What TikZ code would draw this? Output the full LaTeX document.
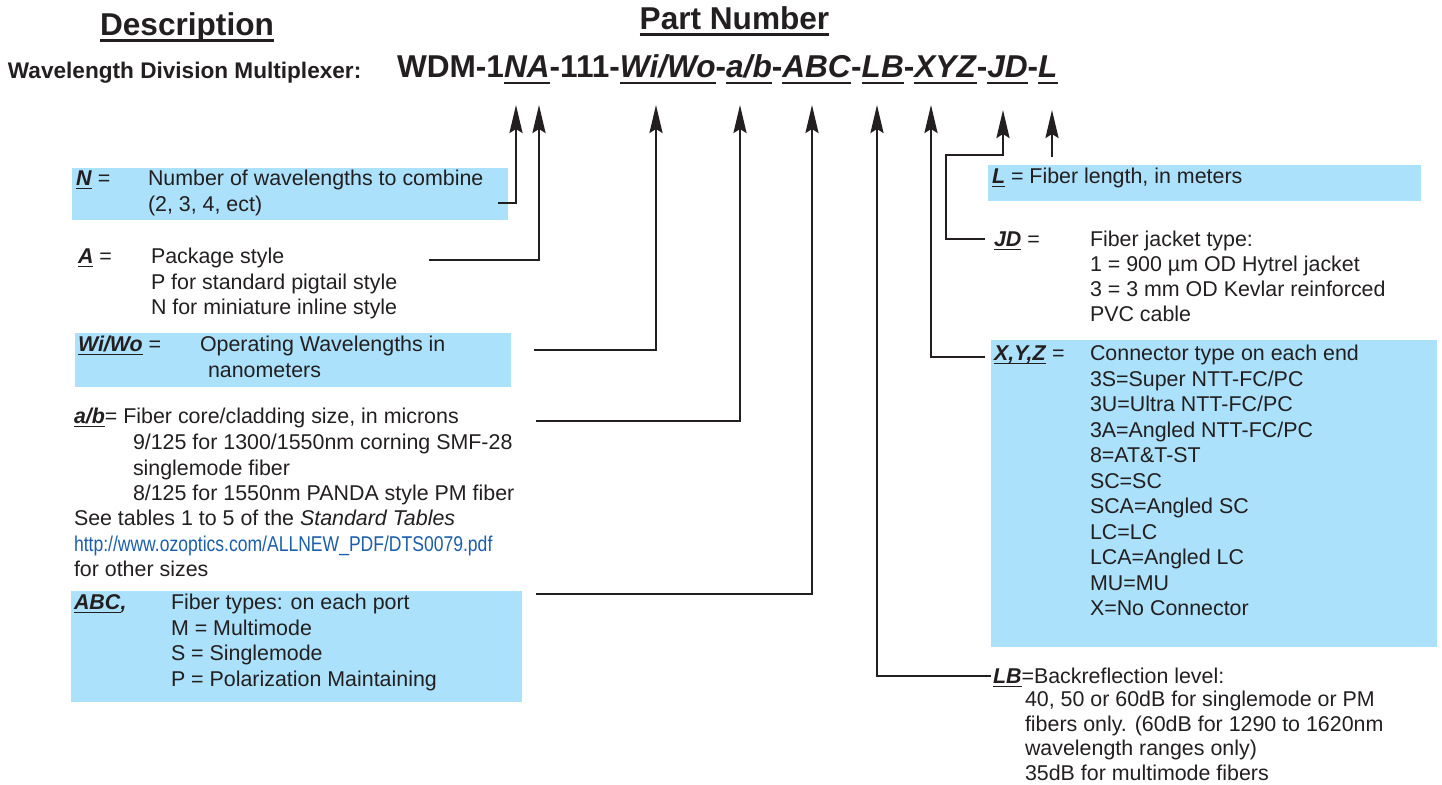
\documentclass[tikz,border=0pt]{standalone}
\usepackage{fontspec}
\setmainfont{Liberation Sans}
\newfontfamily\narrowsans[FakeStretch=0.82]{Liberation Sans}
\usetikzlibrary{arrows.meta}
\definecolor{tc}{HTML}{231F20}
\definecolor{boxc}{HTML}{ABE1FA}
\definecolor{urlc}{HTML}{1B5EAB}
\newcommand\body{\fontsize{10.7}{12.75}\selectfont}
\newcommand\ulx[3]{\setbox0\hbox{#3}\rlap{\rule[-#1]{\wd0}{#2}}\box0\relax}
\newcommand\lab[1]{\ulx{1.7pt}{0.9pt}{\textbf{\textit{#1}}}}
\newcommand\pu[1]{\ulx{3pt}{1.1pt}{\textit{#1}}}
\newcommand\lines[1]{\begin{tabular}[t]{@{}l@{}}#1\end{tabular}}
\begin{document}
\begin{tikzpicture}[x=0.5pt,y=-0.5pt,
  every node/.style={inner sep=0pt, outer sep=0pt, text=tc},
  txt/.style={anchor=base west, font=\body},
  arr/.style={draw=tc, line width=1.3pt, -{Stealth[length=14pt,width=6.5pt,inset=2pt]}}]
\useasboundingbox (0,0) rectangle (1442,785);
% shaded boxes
\fill[boxc] (72,168) rectangle (508,220);
\fill[boxc] (75,333) rectangle (511,387);
\fill[boxc] (71,591) rectangle (522,702);
\fill[boxc] (988,165) rectangle (1421,201);
\fill[boxc] (991,340) rectangle (1437,647);
% headings
\node[anchor=base, font=\fontsize{15.8}{18}\selectfont\bfseries] (desc) at (187,36) {\ulx{2.9pt}{1.2pt}{Description}};
\node[anchor=base, font=\fontsize{15.8}{18}\selectfont\bfseries] (pnt) at (734.5,30) {\ulx{2.9pt}{1.2pt}{Part Number}};
\node[anchor=base west, font=\fontsize{11.3}{13}\selectfont\bfseries] (wdm) at (8,79) {Wavelength Division Multiplexer:};
\node[anchor=base west, font=\fontsize{15.8}{18}\selectfont\bfseries] (pn) at (397,78)
  {WDM-1\pu{NA}-111-\pu{Wi/Wo}-\pu{a/b}-\pu{ABC}-\pu{LB}-\pu{XYZ}-\pu{JD}-\pu{L}};
% left blocks
\node[txt] (Nl) at (76,186) {\lab{N} =};
\node[txt] (Nt) at (148,186) {\lines{Number of wavelengths to combine\\(2, 3, 4, ect)}};
\node[txt] (Al) at (78,264) {\lab{A} =};
\node[txt] (At) at (151,264) {\lines{Package style\\P for standard pigtail style\\N for miniature inline style}};
\node[txt] (Wl) at (78,352) {\lab{Wi/Wo} =};
\node[txt] (Wt1) at (200,352) {Operating Wavelengths in};
\node[txt] (Wt2) at (208,378) {nanometers};
\node[txt] (abl) at (74,424) {\lab{a/b}= Fiber core/cladding size, in microns};
\node[txt] (abt) at (133,450) {\lines{9/125 for 1300/1550nm corning SMF-28\\singlemode fiber\\8/125 for 1550nm PANDA style PM fiber}};
\node[txt] (abs) at (74,526) {\lines{See tables 1 to 5 of the \textit{Standard Tables}\\\textcolor{urlc}{\narrowsans http://www.ozoptics.com/ALLNEW\_PDF/DTS0079.pdf}\\for other sizes}};
\node[txt] (Cl) at (74,610) {\lab{ABC}\textbf{\textit{,}}};
\node[txt] (Ct) at (171,610) {\lines{Fiber types: on each port\\M = Multimode\\S = Singlemode\\P = Polarization Maintaining}};
% right blocks
\node[txt] (Ll) at (992,184) {\lab{L} = Fiber length, in meters};
\node[txt] (JDl) at (994,247) {\lab{JD} =};
\node[txt, font=\fontsize{10.7}{12.4}\selectfont] (JDt) at (1090,247) {\lines{Fiber jacket type:\\1 = 900 µm OD Hytrel jacket\\3 = 3 mm OD Kevlar reinforced\\PVC cable}};
\node[txt] (Xl) at (994,361) {\lab{X,Y,Z} =};
\node[txt] (Xt) at (1090,361) {\lines{Connector type on each end\\3S=Super NTT-FC/PC\\3U=Ultra NTT-FC/PC\\3A=Angled NTT-FC/PC\\8=AT\&T-ST\\SC=SC\\SCA=Angled SC\\LC=LC\\LCA=Angled LC\\MU=MU\\X=No Connector}};
\node[txt] (LBl) at (993,684) {\lab{LB}=Backreflection level:};
\node[txt, font=\fontsize{10.7}{12.25}\selectfont] (LBt) at (1025,707) {\lines{40, 50 or 60dB for singlemode or PM\\fibers only. (60dB for 1290 to 1620nm\\wavelength ranges only)\\35dB for multimode fibers}};
% arrow tips
\coordinate (tN) at (516,105);
\coordinate (tA) at (539,105);
\coordinate (tW) at (656,105);
\coordinate (tab) at (740,105);
\coordinate (tC) at (812,105);
\coordinate (tLB) at (877,105);
\coordinate (tX) at (931,105);
\coordinate (tJD) at (1003,110);
\coordinate (tL) at (1052,110);
% connector starts
\coordinate (sN) at (498,203);
\coordinate (sA) at (429,260);
\coordinate (sW) at (534,350);
\coordinate (sab) at (536,421);
\coordinate (sC) at (536,594);
\coordinate (sJD) at (985,239);
\coordinate (cJD) at (946,155);
\coordinate (sX) at (985,357);
\coordinate (sLB) at (991,676);
\coordinate (sL) at (1052,157);
% connectors
\draw[arr] (sN) -| (tN);
\draw[arr] (sA) -| (tA);
\draw[arr] (sW) -| (tW);
\draw[arr] (sab) -| (tab);
\draw[arr] (sC) -| (tC);
\draw[arr] (sLB) -| (tLB);
\draw[arr] (sX) -| (tX);
\draw[arr] (sJD) -| (cJD) -| (tJD);
\draw[arr] (sL) -- (tL);
\end{tikzpicture}
\end{document}
